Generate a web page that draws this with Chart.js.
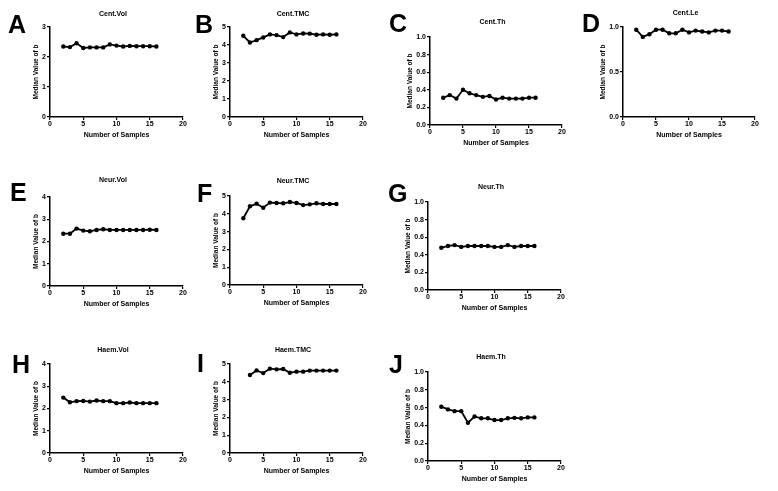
<!DOCTYPE html>
<html>
<head>
<meta charset="utf-8">
<script src="https://cdn.jsdelivr.net/npm/chart.js@4.4.1/dist/chart.umd.min.js"></script>
<style>
  body { margin: 0; background: #fff; }
  #fig { position: relative; width: 778px; height: 491px; overflow: hidden; }
  #fig canvas { position: absolute; }
  .letter {
    position: absolute; font-family: Arial, "Liberation Sans", sans-serif;
    font-weight: bold; font-size: 25px; line-height: 25px; color: #000; z-index: 5;
  }
</style>
</head>
<body>
<div id="fig"></div>
<script>
// number of samples on the x axis
const nSamples = [2, 3, 4, 5, 6, 7, 8, 9, 10, 11, 12, 13, 14, 15, 16];
const nSamplesHaemTMC = [3, 4, 5, 6, 7, 8, 9, 10, 11, 12, 13, 14, 15, 16];

// median value of b, one array per panel
const centVol = [2.35, 2.33, 2.46, 2.30, 2.32, 2.32, 2.32, 2.42, 2.38, 2.35, 2.37, 2.36, 2.36, 2.36, 2.35];
const centTMC = [4.51, 4.14, 4.27, 4.42, 4.59, 4.55, 4.44, 4.70, 4.59, 4.64, 4.63, 4.57, 4.59, 4.57, 4.59];
const centTh  = [0.31, 0.34, 0.30, 0.40, 0.36, 0.34, 0.32, 0.33, 0.29, 0.31, 0.30, 0.30, 0.30, 0.31, 0.31];
const centLe  = [0.97, 0.89, 0.92, 0.97, 0.97, 0.93, 0.93, 0.97, 0.94, 0.96, 0.95, 0.94, 0.96, 0.96, 0.95];
const neurVol = [2.35, 2.35, 2.58, 2.49, 2.46, 2.52, 2.55, 2.52, 2.52, 2.52, 2.52, 2.52, 2.52, 2.53, 2.52];
const neurTMC = [3.75, 4.42, 4.57, 4.34, 4.63, 4.61, 4.59, 4.66, 4.61, 4.49, 4.53, 4.59, 4.55, 4.55, 4.55];
const neurTh  = [0.48, 0.50, 0.51, 0.49, 0.50, 0.50, 0.50, 0.50, 0.49, 0.49, 0.51, 0.49, 0.50, 0.50, 0.50];
const haemVol = [2.49, 2.28, 2.33, 2.34, 2.31, 2.36, 2.33, 2.33, 2.24, 2.24, 2.27, 2.24, 2.24, 2.24, 2.24];
const haemTMC = [4.38, 4.64, 4.49, 4.74, 4.70, 4.72, 4.51, 4.57, 4.57, 4.63, 4.63, 4.63, 4.63, 4.63];
const haemTh  = [0.61, 0.58, 0.56, 0.56, 0.43, 0.50, 0.48, 0.48, 0.46, 0.46, 0.48, 0.485, 0.48, 0.49, 0.49];

// axis settings
const xTicks = [0, 5, 10, 15, 20];
const xTitle = 'Number of Samples';
const yTitle = 'Median Value of b';

const FONT = 'Arial, "Liberation Sans", sans-serif';

// panel layout: plot box in page pixels (l, t, r, b), title offset above plot
const panels = [
  { letter: 'A', title: 'Cent.Vol',  x: nSamples, y: centVol, yMax: 3, yStep: 1,   dec: 0, l: 50,  t: 27,  r: 183, b: 117, off: 13, lx: 8,   lb: 33 },
  { letter: 'B', title: 'Cent.TMC',  x: nSamples, y: centTMC, yMax: 5, yStep: 1,   dec: 0, l: 230, t: 27,  r: 363, b: 117, off: 13, lx: 195, lb: 33 },
  { letter: 'C', title: 'Cent.Th',   x: nSamples, y: centTh,  yMax: 1, yStep: 0.2, dec: 1, l: 430, t: 37,  r: 562, b: 125, off: 15, lx: 389, lb: 32 },
  { letter: 'D', title: 'Cent.Le',   x: nSamples, y: centLe,  yMax: 1, yStep: 0.5, dec: 1, l: 623, t: 27,  r: 755, b: 117, off: 14, lx: 582, lb: 32 },
  { letter: 'E', title: 'Neur.Vol',  x: nSamples, y: neurVol, yMax: 4, yStep: 1,   dec: 0, l: 50,  t: 197, r: 183, b: 286, off: 17, lx: 10,  lb: 201 },
  { letter: 'F', title: 'Neur.TMC',  x: nSamples, y: neurTMC, yMax: 5, yStep: 1,   dec: 0, l: 230, t: 196, r: 363, b: 285, off: 15, lx: 197, lb: 202 },
  { letter: 'G', title: 'Neur.Th',   x: nSamples, y: neurTh,  yMax: 1, yStep: 0.2, dec: 1, l: 428, t: 202, r: 561, b: 290, off: 15, lx: 388, lb: 202 },
  { letter: 'H', title: 'Haem.Vol',  x: nSamples, y: haemVol, yMax: 4, yStep: 1,   dec: 0, l: 50,  t: 364, r: 183, b: 453, off: 14, lx: 12,  lb: 373 },
  { letter: 'I', title: 'Haem.TMC',  x: nSamplesHaemTMC, y: haemTMC, yMax: 5, yStep: 1, dec: 0, l: 230, t: 364, r: 363, b: 453, off: 14, lx: 197, lb: 372 },
  { letter: 'J', title: 'Haem.Th',   x: nSamples, y: haemTh,  yMax: 1, yStep: 0.2, dec: 1, l: 428, t: 372, r: 561, b: 461, off: 15, lx: 389, lb: 373 }
];

// panel title, centred a little left of the plot centre like the original
const panelTitle = {
  id: 'panelTitle',
  afterDraw(chart, args, opts) {
    const { ctx, chartArea } = chart;
    ctx.save();
    ctx.font = 'bold 7px ' + FONT;
    ctx.fillStyle = '#000';
    ctx.textAlign = 'center';
    ctx.textBaseline = 'middle';
    ctx.fillText(opts.text, (chartArea.left + chartArea.right) / 2 - 3.5, chartArea.top - opts.off);
    ctx.restore();
  }
};

const fig = document.getElementById('fig');
const Y_BOX = 50, X_BOX = 32, TOP_BOX = 28, RIGHT_PAD = 12;

panels.forEach(p => {
  // panel letter
  const lt = document.createElement('div');
  lt.className = 'letter';
  lt.textContent = p.letter;
  lt.style.left = p.lx + 'px';
  lt.style.top = (p.lb - 21) + 'px';
  fig.appendChild(lt);

  const canvas = document.createElement('canvas');
  const w = (p.r - p.l) + Y_BOX + RIGHT_PAD;
  const h = (p.b - p.t) + TOP_BOX + X_BOX;
  canvas.width = w;
  canvas.height = h;
  canvas.style.width = w + 'px';
  canvas.style.height = h + 'px';
  canvas.style.left = (p.l - Y_BOX) + 'px';
  canvas.style.top = (p.t - TOP_BOX) + 'px';
  fig.appendChild(canvas);

  const yTitleOff = p.dec ? 20 : 14;

  new Chart(canvas.getContext('2d'), {
    type: 'line',
    data: {
      datasets: [{
        data: p.x.map((v, i) => ({ x: v, y: p.y[i] })),
        borderColor: '#000',
        backgroundColor: '#000',
        borderWidth: 1.8,
        pointRadius: 2.2,
        pointBackgroundColor: '#000',
        pointBorderWidth: 0,
        tension: 0,
        fill: false
      }]
    },
    plugins: [panelTitle],
    options: {
      responsive: false,
      animation: false,
      layout: { padding: { left: 0, right: RIGHT_PAD, top: TOP_BOX, bottom: 0 } },
      plugins: {
        legend: { display: false },
        tooltip: { enabled: false },
        title: { display: false },
        panelTitle: { text: p.title, off: p.off }
      },
      scales: {
        x: {
          type: 'linear',
          min: 0, max: 20,
          afterBuildTicks: s => { s.ticks = xTicks.map(v => ({ value: v })); },
          afterFit: s => { s.height = X_BOX; },
          grid: { drawOnChartArea: false, drawTicks: true, tickLength: 3, color: '#000', lineWidth: 1.2 },
          border: { display: true, color: '#000', width: 1.5 },
          ticks: { color: '#000', padding: 0, maxRotation: 0, font: { family: FONT, size: 7, weight: 'bold' } },
          title: {
            display: true, text: xTitle, color: '#000',
            font: { family: FONT, size: 7, weight: 'bold', lineHeight: 1.2 },
            padding: { top: 0, bottom: 14 - 4.2 }
          }
        },
        y: {
          min: 0, max: p.yMax,
          afterFit: s => { s.width = Y_BOX; },
          grid: { drawOnChartArea: false, drawTicks: true, tickLength: 3, color: '#000', lineWidth: 1.2 },
          border: { display: true, color: '#000', width: 1.5 },
          ticks: {
            stepSize: p.yStep, color: '#000', padding: 1,
            font: { family: FONT, size: 7, weight: 'bold' },
            callback: v => Number(v).toFixed(p.dec)
          },
          title: {
            display: true, text: yTitle, color: '#000',
            font: { family: FONT, size: 6.5, weight: 'bold', lineHeight: 1.2 },
            padding: { top: Y_BOX - yTitleOff - 3.9, bottom: 0 }
          }
        }
      }
    }
  });
});
</script>
</body>
</html>
